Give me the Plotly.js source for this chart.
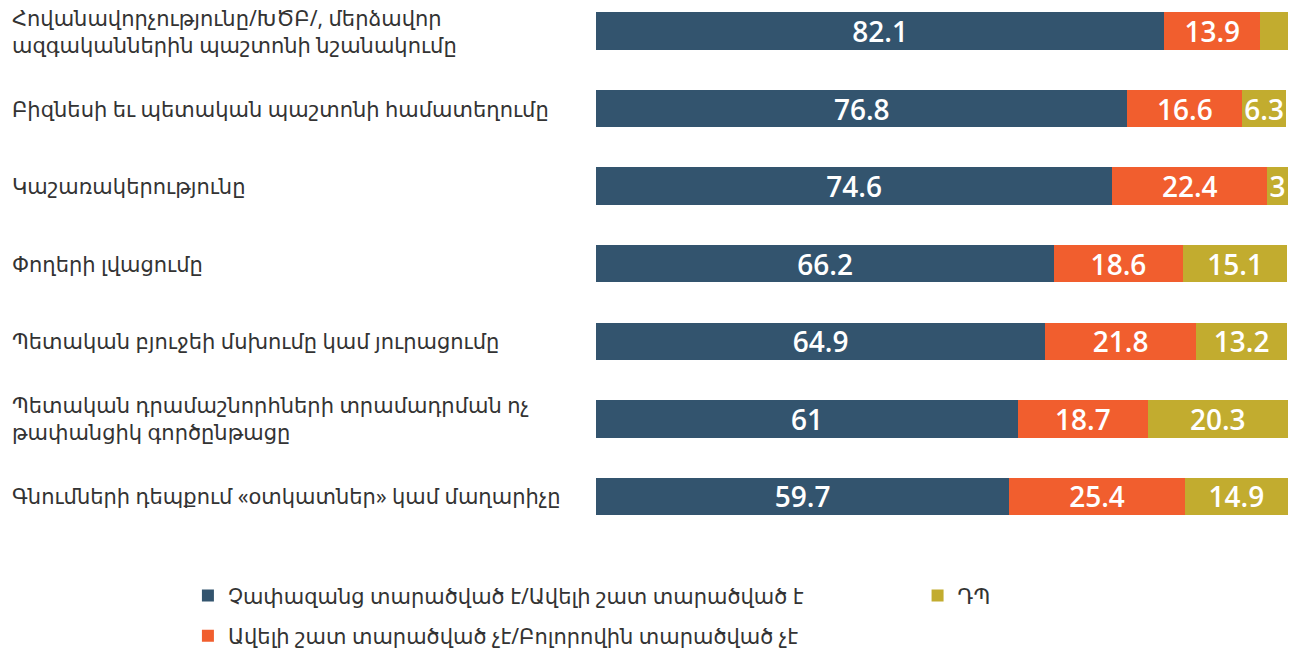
<!DOCTYPE html>
<html>
<head>
<meta charset="utf-8">
<script src="https://cdn.plot.ly/plotly-3.0.1.min.js"></script>
<style>html,body{margin:0;padding:0;background:#fff;}#chart{width:1296px;height:653px;}</style>
</head>
<body>
<div id="chart"></div>
<script>
const categories = [
  "Հովանավորչությունը/ԽԾԲ/, մերձավոր<br>ազգականներին պաշտոնի նշանակումը",
  "Բիզնեսի եւ պետական պաշտոնի համատեղումը",
  "Կաշառակերությունը",
  "Փողերի լվացումը",
  "Պետական բյուջեի մսխումը կամ յուրացումը",
  "Պետական դրամաշնորհների տրամադրման ոչ<br>թափանցիկ գործընթացը",
  "Գնումների դեպքում «օտկատներ» կամ մաղարիչը"
];
const seriesNames = [
  "Չափազանց տարածված է/Ավելի շատ տարածված է",
  "Ավելի շատ տարածված չէ/Բոլորովին տարածված չէ",
  "ԴՊ"
];
const widespread = [82.1, 76.8, 74.6, 66.2, 64.9, 61, 59.7];
const notWidespread = [13.9, 16.6, 22.4, 18.6, 21.8, 18.7, 25.4];
const dontKnow = [4.0, 6.3, 3, 15.1, 13.2, 20.3, 14.9];
const dontKnowShowLabel = [false, true, true, true, true, true, true];

const colors = ["#33546e", "#f15e2e", "#c2ac2f"];
const labelFont = {family: "Noto Sans, DejaVu Sans, sans-serif", size: 21, color: "#333333"};
const valueFont = {family: "Open Sans", size: 28, color: "#ffffff", weight: 600};

function barTrace(vals, i, legendId, rank, templ) {
  return {
    type: "bar", orientation: "h",
    y: categories, x: vals, name: seriesNames[i],
    marker: {color: colors[i]},
    texttemplate: templ || "%{x}",
    textposition: "inside", insidetextanchor: "middle",
    textangle: 0,
    textfont: valueFont, insidetextfont: valueFont,
    constraintext: "none",
    hoverinfo: "x+name",
    legend: legendId, legendrank: rank, legendgroup: "g" + i
  };
}

const traces = [
  barTrace(widespread, 0, "legend", 1),
  barTrace(notWidespread, 1, "legend", 2),
  barTrace(dontKnow, 2, "legend2", 3, dontKnowShowLabel.map(s => s ? "%{x}" : ""))
];

const annotations = categories.map(c => ({
  xref: "paper", yref: "y", x: -586/692, y: c,
  xanchor: "left", yanchor: "middle", align: "left",
  text: c, showarrow: false, font: labelFont
}));

const layout = {
  width: 1296, height: 653,
  margin: {l: 596, r: 8, t: 0, b: 110, autoexpand: false},
  barmode: "stack", bargap: 0.517,
  paper_bgcolor: "#ffffff", plot_bgcolor: "#ffffff",
  xaxis: {range: [0, 100], visible: false, fixedrange: true},
  yaxis: {type: "category", range: [6.6, -0.4], autorange: false, showticklabels: false,
          showgrid: false, zeroline: false, showline: false, ticks: ""},
  showlegend: true,
  legend: {orientation: "v", xref: "container", yref: "container", x: 0.145, xanchor: "left",
           y: 0.119, yanchor: "top",
           font: labelFont, traceorder: "grouped", tracegroupgap: 10, bgcolor: "rgba(0,0,0,0)"},
  legend2: {orientation: "v", xref: "container", yref: "container", x: 0.708, xanchor: "left",
            y: 0.119, yanchor: "top",
            font: labelFont, bgcolor: "rgba(0,0,0,0)"},
  annotations: annotations
};

Plotly.newPlot("chart", traces, layout, {displayModeBar: false, staticPlot: true});
</script>
</body>
</html>
